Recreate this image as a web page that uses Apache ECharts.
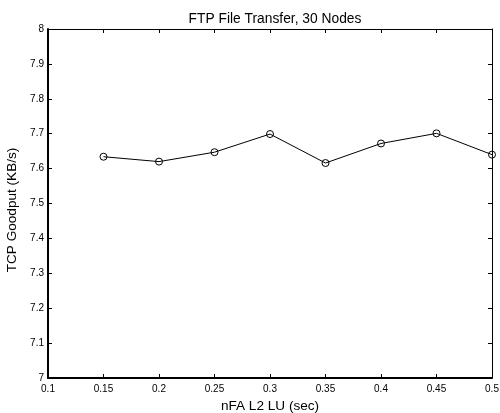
<!DOCTYPE html>
<html>
<head>
<meta charset="utf-8">
<script src="https://cdn.jsdelivr.net/npm/echarts@6/dist/echarts.min.js"></script>
<style>html,body{margin:0;padding:0;background:#fff;}#c{width:500px;height:413px;}</style>
</head>
<body>
<div id="c"></div>
<script>
const titleText = 'FTP File Transfer, 30 Nodes';
const xName = 'nFA L2 LU (sec)';
const yName = 'TCP Goodput (KB/s)';
const xValues = [0.15, 0.2, 0.25, 0.3, 0.35, 0.4, 0.45, 0.5];
const goodput = [7.634, 7.620, 7.647, 7.699, 7.616, 7.672, 7.701, 7.640];
const xMin = 0.1, xMax = 0.5, xStep = 0.05;
const yMin = 7, yMax = 8, yStep = 0.1;

const FONT = 'Liberation Sans, Arial, Helvetica, sans-serif';
const fmt = v => String(Math.round(v * 100) / 100);
const chart = echarts.init(document.getElementById('c'), null, {renderer: 'canvas'});
const grid = {left: 48, right: 8, top: 29, bottom: 35, containLabel: false, outerBoundsMode: 'none'};
const tickStyle = {show: true, inside: true, length: 4, lineStyle: {color: '#000', width: 1}};
chart.setOption({
  animation: false,
  backgroundColor: '#fff',
  title: {
    text: titleText, left: 270, top: 7, textAlign: 'center',
    textStyle: {fontFamily: FONT, fontSize: 13.8, fontWeight: 'normal', color: '#000'}
  },
  grid: grid,
  xAxis: [{
    type: 'value', min: xMin, max: xMax, interval: xStep,
    name: xName, nameLocation: 'middle', nameGap: 18,
    nameTextStyle: {fontFamily: FONT, fontSize: 13.6, color: '#000'},
    axisLine: {show: true, onZero: false, lineStyle: {color: '#000', width: 2}},
    axisTick: tickStyle,
    axisLabel: {formatter: fmt, margin: 6, fontFamily: FONT, fontSize: 10, color: '#000'},
    splitLine: {show: false}
  }, {
    type: 'value', min: xMin, max: xMax, interval: xStep, position: 'top',
    axisLine: {show: true, onZero: false, lineStyle: {color: '#000', width: 1}},
    axisTick: tickStyle, axisLabel: {show: false}, splitLine: {show: false}
  }],
  yAxis: [{
    type: 'value', min: yMin, max: yMax, interval: yStep,
    name: yName, nameLocation: 'middle', nameGap: 25, nameRotate: 90,
    nameTextStyle: {fontFamily: FONT, fontSize: 13.6, color: '#000', padding: [0, 13, 0, 0]},
    axisLine: {show: true, onZero: false, lineStyle: {color: '#000', width: 2}},
    axisTick: tickStyle,
    axisLabel: {formatter: fmt, margin: 4, fontFamily: FONT, fontSize: 10, color: '#000'},
    splitLine: {show: false}
  }, {
    type: 'value', min: yMin, max: yMax, interval: yStep, position: 'right',
    axisLine: {show: true, onZero: false, lineStyle: {color: '#000', width: 1}},
    axisTick: tickStyle, axisLabel: {show: false}, splitLine: {show: false}
  }],
  series: [{
    type: 'line',
    data: xValues.map((x, i) => [x, goodput[i]]),
    symbol: 'circle', symbolSize: 7,
    itemStyle: {color: 'rgba(255,255,255,0)', borderColor: '#000', borderWidth: 1},
    lineStyle: {color: '#000', width: 1},
    clip: false
  }]
});
</script>
</body>
</html>
